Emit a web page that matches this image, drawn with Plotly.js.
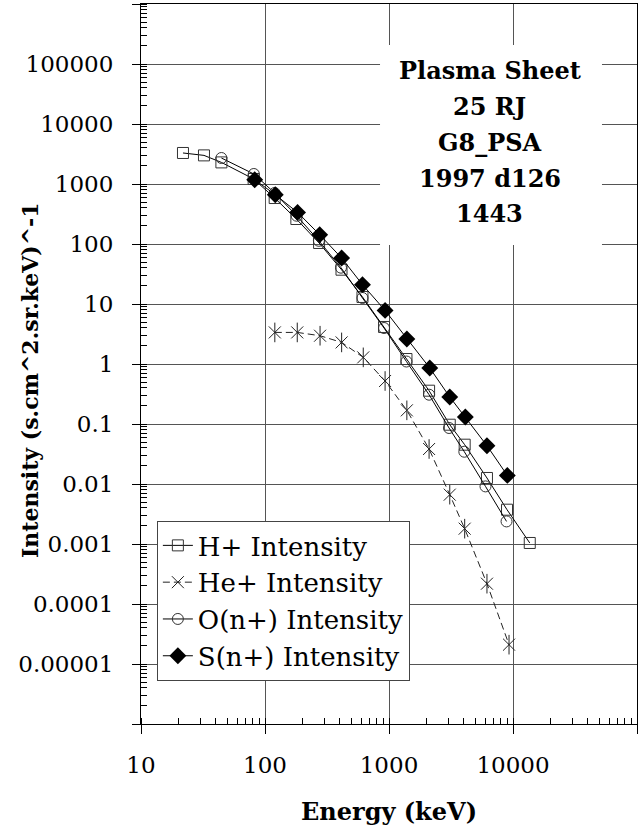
<!DOCTYPE html>
<html>
<head>
<meta charset="utf-8">
<script src="https://cdn.plot.ly/plotly-3.0.1.min.js"></script>
<style>html,body{margin:0;padding:0;background:#fff;}#chart{width:638px;height:833px;}</style>
</head>
<body>
<div id="chart"></div>
<script>
// H+ Intensity
const hEnergy = [21.8, 32.2, 44.5, 81, 119.7, 179, 273, 414, 611, 912, 1383, 2105, 3090, 4077, 6166, 8950, 13650];
const hIntensity = [3288, 2998, 2291, 1212, 584, 261, 104, 37.3, 13.1, 4.14, 1.21, 0.359, 0.0973, 0.0452, 0.0126, 0.00373, 0.00104];
// He+ Intensity
const heEnergy = [120, 182, 278, 415, 620, 930, 1393, 2105, 3090, 4077, 6166, 9290];
const heIntensity = [3.36, 3.36, 2.96, 2.29, 1.29, 0.521, 0.169, 0.0383, 0.00664, 0.0018, 0.000218, 0.000021];
// O(n+) Intensity
const oEnergy = [44.5, 81.3, 119.7, 180, 272, 410, 611, 912, 1383, 2105, 3050, 4050, 6000, 8870];
const oIntensity = [2712, 1468, 708, 296, 113, 40.3, 12.6, 3.98, 1.10, 0.308, 0.0858, 0.0345, 0.00912, 0.00238];
// S(n+) Intensity
const sEnergy = [82.6, 121, 183, 276, 415, 611, 930, 1393, 2132, 3090, 4127, 6166, 9000];
const sIntensity = [1180, 663, 336, 143, 58.4, 21, 7.82, 2.61, 0.858, 0.282, 0.131, 0.0435, 0.0139];

const seriesNames = ["H+ Intensity", "He+ Intensity", "O(n+) Intensity", "S(n+) Intensity"];
const xTickVals = [10, 100, 1000, 10000, 100000];
const xTickText = ["10", "100", "1000", "10000", ""];
const yTickVals = [1e-6, 1e-5, 1e-4, 1e-3, 1e-2, 1e-1, 1, 10, 100, 1000, 10000, 100000, 1000000];
const yTickText = ["", "0.00001", "0.0001", "0.001", "0.01", "0.1", "1", "10", "100", "1000", "10000", "100000", ""];
const infoLines = ["Plasma Sheet", "25 RJ", "G8_PSA", "1997 d126", "1443"];
const yTitleText = "Intensity (s.cm^2.sr.keV)^-1";

const serif = '"DejaVu Serif", serif';

// plot-area geometry (paper fractions) for the label block
const plotTop = 4, plotBottom = 724, plotH = 720;
const toPaperY = (py) => (plotBottom - py) / plotH;
const infoLineY = [70, 106, 142, 178, 214];

const traces = [
  {x: hEnergy, y: hIntensity, name: seriesNames[0], type: "scatter", mode: "lines+markers",
   line: {color: "#000", width: 1},
   marker: {symbol: "square-open", size: 11, color: "#333", line: {width: 1}}},
  {x: heEnergy, y: heIntensity, name: seriesNames[1], type: "scatter", mode: "lines+markers",
   line: {color: "#222", width: 1, dash: "7px,4px"},
   marker: {symbol: "x-thin-open", size: 12, color: "#222", line: {width: 1, color: "#222"}}},
  {x: heEnergy, y: heIntensity, name: seriesNames[1], type: "scatter", mode: "markers", showlegend: false,
   marker: {symbol: "line-ns-open", size: 14, color: "#222", line: {width: 1, color: "#222"}}},
  {x: oEnergy, y: oIntensity, name: seriesNames[2], type: "scatter", mode: "lines+markers",
   line: {color: "#000", width: 1},
   marker: {symbol: "circle-open", size: 11, color: "#333", line: {width: 1}}},
  {x: sEnergy, y: sIntensity, name: seriesNames[3], type: "scatter", mode: "lines+markers",
   line: {color: "#000", width: 1},
   marker: {symbol: "diamond", size: 13, color: "#000", line: {width: 0}}}
];

const annotations = infoLines.map((t, i) => ({
  xref: "paper", yref: "paper", x: 0.7036, y: toPaperY(infoLineY[i]),
  xanchor: "center", yanchor: "middle", text: t, showarrow: false,
  font: {size: 24, family: serif, weight: "bold", color: "#000"}
}));
annotations.push({
  xref: "paper", yref: "paper", x: -0.2238, y: toPaperY(380),
  xanchor: "center", yanchor: "middle", text: yTitleText, showarrow: false,
  textangle: -90,
  font: {size: 22, family: serif, weight: "bold", color: "#000"}
});

const layout = {
  width: 638, height: 833,
  margin: {l: 141, r: 1, t: 4, b: 109},
  paper_bgcolor: "#fff", plot_bgcolor: "#fff",
  showlegend: true,
  font: {family: serif, color: "#000"},
  xaxis: {
    type: "log", range: [1, 5],
    tickvals: xTickVals, ticktext: xTickText,
    ticks: "outside", ticklen: 9, tickcolor: "#000", tickwidth: 1,
    ticklabelstandoff: 11,
    tickfont: {size: 23, family: serif},
    showgrid: true, gridcolor: "#555", gridwidth: 1,
    showline: true, linecolor: "#000", linewidth: 1, mirror: true,
    zeroline: false,
    minor: {ticks: "inside", ticklen: 6, dtick: "D1", tickcolor: "#000", showgrid: false},
    title: {text: "Energy (keV)", font: {size: 24, family: serif, weight: "bold"}, standoff: 26},
    automargin: false
  },
  yaxis: {
    type: "log", range: [-6, 6],
    tickvals: yTickVals, ticktext: yTickText,
    ticks: "outside", ticklen: 8, tickcolor: "#000", tickwidth: 1,
    ticklabelstandoff: 14,
    tickfont: {size: 23, family: serif},
    showgrid: true, gridcolor: "#555", gridwidth: 1,
    showline: true, linecolor: "#000", linewidth: 1, mirror: true,
    zeroline: false,
    minor: {ticks: "inside", ticklen: 6, dtick: "D1", tickcolor: "#000", showgrid: false},
    automargin: false
  },
  legend: {
    x: 0.032, y: 0.282, xanchor: "left", yanchor: "top",
    bgcolor: "#fff", bordercolor: "#444", borderwidth: 1,
    font: {size: 26, family: serif},
    tracegroupgap: 0
  },
  shapes: [{
    type: "rect", xref: "paper", yref: "paper",
    x0: 0.4819, x1: 0.9294, y0: toPaperY(245), y1: toPaperY(45),
    fillcolor: "#fff", line: {width: 0}, layer: "above"
  }],
  annotations: annotations
};

Plotly.newPlot("chart", traces, layout, {displayModeBar: false, staticPlot: true});
</script>
</body>
</html>
